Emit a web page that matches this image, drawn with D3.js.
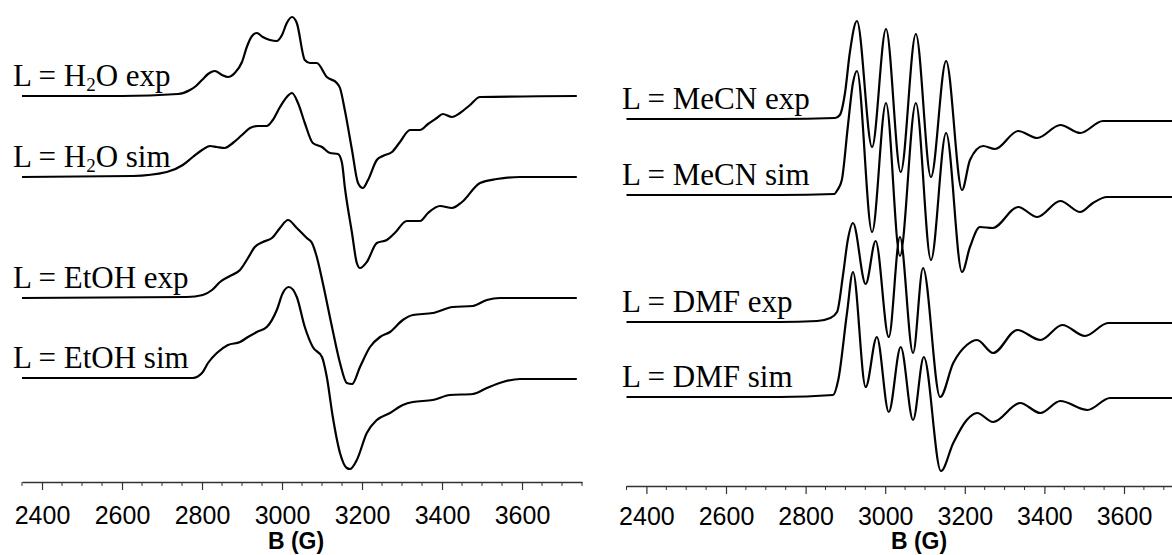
<!DOCTYPE html>
<html>
<head>
<meta charset="utf-8">
<script src="https://cdn.jsdelivr.net/npm/d3@7"></script>
<style>
  html, body { margin: 0; padding: 0; background: #fff; }
  svg { display: block; }
</style>
</head>
<body>
<div id="chart"></div>
<script>
// magnetic field axis (G)
const fieldRange = [2350, 3750];
const majorTicks = [2400, 2600, 2800, 3000, 3200, 3400, 3600];
const minorTicks = d3.range(2350, 3751, 50).filter(v => v % 200 !== 0);

// spectra: [field (G), signal (a.u.)]
const h2oExp = [[2350,0],[2600,0],[2740,0.2],[2770,0.6],[2785,1.0],[2800,1.6],[2815,2.2],[2832,2.5],[2850,2.1],[2865,1.9],[2882,2.3],[2900,3.4],[2912,4.9],[2925,6.0],[2937,6.3],[2952,5.9],[2970,5.6],[2987,5.5],[3000,6.1],[3012,7.3],[3025,7.9],[3037,7.3],[3057,3.6],[3070,3.3],[3087,3.3],[3112,1.9],[3137,1.3],[3145,0.8],[3157,-1.4],[3175,-5.4],[3190,-8.7],[3202,-9.2],[3215,-8.4],[3237,-6.4],[3252,-6.0],[3275,-5.6],[3295,-4.6],[3320,-3.4],[3345,-3.4],[3365,-2.8],[3387,-2.2],[3402,-1.8],[3425,-2.1],[3445,-1.7],[3470,-0.9],[3495,-0.1],[3737,0]];
const h2oSim = [[2350,0],[2627,0.1],[2712,0.5],[2752,1.2],[2777,2.0],[2800,2.7],[2820,3.1],[2837,3.0],[2857,2.9],[2877,3.4],[2900,4.2],[2920,4.9],[2940,5.1],[2962,5.1],[2977,5.7],[2995,7.0],[3012,8.0],[3025,8.4],[3040,7.4],[3057,5.4],[3077,3.4],[3100,3.0],[3120,2.4],[3140,2.3],[3150,1.4],[3157,-1.0],[3175,-5.6],[3187,-8.6],[3195,-9.1],[3212,-8.5],[3237,-6.6],[3262,-6.3],[3282,-5.6],[3312,-4.4],[3345,-4.4],[3365,-3.6],[3395,-2.9],[3425,-3.1],[3450,-2.5],[3495,-0.6],[3537,-0.2],[3595,0],[3737,0]];
const etohExp = [[2350,0],[2762,0.1],[2802,0.3],[2825,0.8],[2845,1.6],[2870,2.2],[2895,2.8],[2915,4.0],[2932,5.1],[2952,5.6],[2975,6.0],[2995,7.0],[3015,7.8],[3037,7.0],[3062,6.0],[3075,5.5],[3087,4.1],[3102,1.5],[3125,-2.9],[3145,-6.5],[3162,-8.5],[3175,-8.6],[3195,-6.9],[3220,-4.9],[3245,-3.9],[3270,-3.4],[3302,-2.2],[3327,-1.7],[3377,-1.5],[3427,-0.9],[3477,-0.8],[3512,-0.2],[3545,0],[3737,0]];
const etohSim = [[2350,0],[2777,0],[2800,0.5],[2815,1.5],[2837,2.5],[2865,3.3],[2895,3.6],[2915,4.1],[2937,4.6],[2962,5.1],[2987,6.8],[3002,8.5],[3017,9.1],[3037,8.1],[3057,5.1],[3077,3.1],[3100,2.1],[3112,0.1],[3127,-3.9],[3145,-7.5],[3162,-9.0],[3170,-9.1],[3187,-8.2],[3212,-5.5],[3237,-4.2],[3270,-3.5],[3302,-2.7],[3327,-2.4],[3377,-2.2],[3420,-1.7],[3477,-1.6],[3512,-1.0],[3552,-0.4],[3595,-0.1],[3737,-0.1]];

const mecnExp = [[2350,0],[2735,0],[2874,0.1],[2886,0.4],[2899,2.6],[2911,6.6],[2929,9.8],[2967,-2.8],[3002,9.0],[3039,-5.3],[3077,8.5],[3115,-5.8],[3153,5.8],[3193,-7.1],[3213,-4.1],[3246,-2.7],[3276,-3.0],[3334,-1.2],[3382,-1.9],[3440,-0.6],[3490,-1.4],[3547,-0.2],[3750,-0.2]];
const mecnSim = [[2350,0],[2735,0],[2872,0.1],[2880,0.5],[2891,1.5],[2906,6.8],[2919,11.2],[2929,12.4],[2967,-3.7],[3002,9.2],[3037,-6.1],[3077,9.2],[3115,-6.5],[3153,6.2],[3193,-7.7],[3213,-5.2],[3238,-3.2],[3270,-3.3],[3334,-1.2],[3382,-2.2],[3440,-0.6],[3490,-1.7],[3522,-0.8],[3557,-0.2],[3750,-0.2]];
const dmfExp = [[2350,0],[2735,0],[2829,0.1],[2862,0.4],[2879,1.0],[2894,4.7],[2906,8.2],[2919,9.9],[2951,3.8],[2976,8.1],[3009,-1.5],[3037,8.5],[3070,-3.1],[3095,5.4],[3138,-7.5],[3171,-4.1],[3205,-2.3],[3231,-1.8],[3271,-3.1],[3332,-0.8],[3390,-1.8],[3445,-0.3],[3502,-1.4],[3560,-0.1],[3750,-0.1]];
const dmfSim = [[2350,0],[2735,0],[2869,0.2],[2882,1.7],[2904,8.4],[2919,12.5],[2951,1.0],[2979,6.0],[3009,-1.5],[3039,5.0],[3070,-2.3],[3097,4.0],[3140,-7.4],[3171,-4.6],[3205,-2.3],[3231,-1.6],[3271,-2.5],[3339,-0.6],[3390,-1.6],[3440,-0.4],[3508,-1.3],[3565,-0.1],[3750,-0.1]];

// labels and vertical stacking offsets (a.u.)
const leftLabels = ["L = H2O exp", "L = H2O sim", "L = EtOH exp", "L = EtOH sim"];
const rightLabels = ["L = MeCN exp", "L = MeCN sim", "L = DMF exp", "L = DMF sim"];
const leftOffsets = [38.4, 30.3, 18.2, 10.2];
const rightOffsets = [36.1, 28.5, 15.8, 8.3];
const axisTitle = "B (G)";

const W = 1172, H = 555;

const svg = d3.select("#chart").append("svg")
    .attr("width", W)
    .attr("height", H)
    .attr("viewBox", [0, 0, W, H]);

const y = d3.scaleLinear().domain([0, 48]).range([480, 0]);

const panels = [
    { x: d3.scaleLinear().domain(fieldRange).range([22, 582]), axisY: 482, pad: 16, titleX: 296, titleY: 549,
      series: [h2oExp, h2oSim, etohExp, etohSim], labels: leftLabels, offsets: leftOffsets, labelX: 13 },
    { x: d3.scaleLinear().domain(fieldRange).range([626.5, 1183.7]), axisY: 486, pad: 13, titleX: 919, titleY: 549,
      series: [mecnExp, mecnSim, dmfExp, dmfSim], labels: rightLabels, offsets: rightOffsets, labelX: 622 }
];

// label text with digits as subscripts (H2O)
function addLabel(g, txt, lx, ly) {
    const t = g.append("text")
        .attr("x", lx)
        .attr("y", ly)
        .attr("font-family", "'Liberation Serif', 'Times New Roman', serif")
        .attr("font-size", 31)
        .attr("fill", "#000");
    let sub = false;
    txt.split(/(\d)/).forEach(part => {
        if (!part) return;
        if (/^\d$/.test(part)) {
            t.append("tspan").attr("font-size", 19).attr("dy", 5).text(part);
            sub = true;
        } else {
            const s = t.append("tspan").text(part);
            if (sub) s.attr("dy", -5);
            sub = false;
        }
    });
}

panels.forEach(p => {
    const g = svg.append("g");

    // axis with major + minor ticks
    const ax = g.append("g").attr("transform", `translate(0,${p.axisY})`);
    ax.call(d3.axisBottom(p.x)
        .tickValues(majorTicks)
        .tickSize(8)
        .tickSizeOuter(0)
        .tickPadding(p.pad)
        .tickFormat(d3.format("d")));
    ax.append("g")
        .selectAll("line")
        .data(minorTicks)
        .join("line")
            .attr("x1", d => p.x(d))
            .attr("x2", d => p.x(d))
            .attr("y1", 0)
            .attr("y2", 4)
            .attr("stroke", "#333");
    ax.select(".domain").attr("stroke", "#333").attr("stroke-width", 1.4);
    ax.selectAll(".tick line").attr("stroke", "#333").attr("stroke-width", 1.2);
    ax.selectAll(".tick text")
        .attr("font-family", "'Liberation Sans', Arial, sans-serif")
        .attr("font-size", 25)
        .attr("fill", "#000");

    g.append("text")
        .attr("x", p.titleX)
        .attr("y", p.titleY)
        .attr("text-anchor", "middle")
        .attr("font-family", "'Liberation Sans', Arial, sans-serif")
        .attr("font-weight", "bold")
        .attr("font-size", 23)
        .text(axisTitle);

    // spectra
    p.series.forEach((s, i) => {
        const off = p.offsets[i];
        const line = d3.line()
            .x(d => p.x(d[0]))
            .y(d => y(off + d[1]))
            .curve(d3.curveMonotoneX);
        g.append("path")
            .datum(s)
            .attr("fill", "none")
            .attr("stroke", "#000")
            .attr("stroke-width", 2.2)
            .attr("stroke-linejoin", "round")
            .attr("d", line);
        addLabel(g, p.labels[i], p.labelX, y(off) - 10);
    });
});
</script>
</body>
</html>
